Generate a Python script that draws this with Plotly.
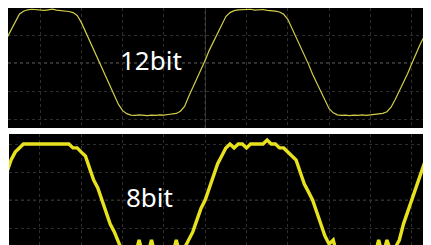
import plotly.graph_objects as go

# sample times (divisions)
TIME = [-0.8, -0.7, -0.6, -0.5, -0.4, -0.3, -0.2, -0.1, 0.0, 0.1,
        0.2, 0.3, 0.4, 0.5, 0.6, 0.7, 0.8, 0.9, 1.0, 1.1,
        1.2, 1.3, 1.4, 1.5, 1.6, 1.7, 1.8, 1.9, 2.0, 2.1,
        2.2, 2.3, 2.4, 2.5, 2.6, 2.7, 2.8, 2.9, 3.0, 3.1,
        3.2, 3.3, 3.4, 3.5, 3.6, 3.7, 3.8, 3.9, 4.0, 4.1,
        4.2, 4.3, 4.4, 4.5, 4.6, 4.7, 4.8, 4.9, 5.0, 5.1,
        5.2, 5.3, 5.4, 5.5, 5.6, 5.7, 5.8, 5.9, 6.0, 6.1,
        6.2, 6.3, 6.4, 6.5, 6.6, 6.7, 6.8, 6.9, 7.0, 7.1,
        7.2, 7.3, 7.4, 7.5, 7.6, 7.7, 7.8, 7.9, 8.0, 8.1,
        8.2, 8.3, 8.4, 8.5, 8.6, 8.7, 8.8, 8.9, 9.0, 9.1,
        9.2, 9.3, 9.4, 9.5]

# 12-bit capture (divisions)
WAVE_12BIT = [0.9, 1.2, 1.5, 1.74, 1.85, 1.9, 1.92, 1.91, 1.89, 1.88,
              1.9, 1.92, 1.89, 1.88, 1.86, 1.84, 1.8, 1.7, 1.45, 1.12,
              0.82, 0.52, 0.18, -0.18, -0.53, -0.86, -1.18, -1.48, -1.7, -1.81,
              -1.86, -1.87, -1.85, -1.87, -1.88, -1.86, -1.87, -1.85, -1.86, -1.84,
              -1.83, -1.8, -1.72, -1.55, -1.2, -0.88, -0.58, -0.25, 0.1, 0.46,
              0.77, 1.07, 1.38, 1.66, 1.8, 1.87, 1.9, 1.91, 1.9, 1.92,
              1.89, 1.9, 1.91, 1.88, 1.87, 1.85, 1.82, 1.74, 1.56, 1.25,
              0.94, 0.64, 0.32, -0.04, -0.4, -0.72, -1.02, -1.35, -1.63, -1.78,
              -1.85, -1.87, -1.86, -1.88, -1.86, -1.87, -1.85, -1.87, -1.85, -1.84,
              -1.83, -1.8, -1.74, -1.58, -1.3, -1.0, -0.7, -0.38, -0.03, 0.32,
              0.65, 0.95, 1.25, 1.55]

# 8-bit capture (divisions, quantized)
WAVE_8BIT = [1.0, 1.43, 1.71, 1.86, 2.0, 2.0, 2.0, 2.0, 2.0, 2.0,
             2.0, 2.0, 2.0, 2.0, 2.0, 2.0, 1.86, 1.86, 1.71, 1.57,
             1.14, 0.71, 0.43, 0.0, -0.43, -0.86, -1.14, -1.57, -1.86, -2.0,
             -2.0, -2.0, -1.43, -2.0, -2.0, -1.43, -2.0, -2.0, -2.0, -2.0,
             -2.0, -1.43, -2.0, -1.71, -1.43, -1.14, -0.71, -0.29, 0.0, 0.43,
             0.86, 1.29, 1.57, 1.86, 2.0, 1.86, 2.0, 2.0, 1.86, 2.0,
             2.0, 2.0, 2.0, 2.14, 2.0, 2.0, 1.86, 1.86, 1.71, 1.57,
             1.43, 1.0, 0.57, 0.29, 0.0, -0.43, -0.86, -1.29, -1.57, -1.43,
             -2.0, -2.0, -2.0, -2.0, -2.0, -2.0, -2.0, -2.0, -2.0, -2.0,
             -1.43, -2.0, -1.43, -1.86, -1.71, -1.43, -0.86, -0.43, 0.0, 0.43,
             0.86, 1.29, 1.71, 1.86]

X_GRID = [0, 1, 2, 3, 4, 5, 6, 7, 8, 9]
Y_GRID_TOP = [-2, -1, 0, 1]
Y_GRID_BOTTOM = [-1, 0, 1, 2]
LABELS = ["12bit", "8bit"]

W, H = 423, 237

fig = go.Figure()
fig.add_trace(go.Scatter(x=TIME, y=WAVE_12BIT, mode="lines", xaxis="x", yaxis="y",
                         line=dict(color="#d2ce4a", width=1.2), hoverinfo="skip"))
fig.add_trace(go.Scatter(x=TIME, y=WAVE_8BIT, mode="lines", xaxis="x2", yaxis="y2",
                         line=dict(color="#e8e21e", width=3.4), hoverinfo="skip"))

ax_common = dict(showticklabels=False, ticks="", zeroline=False, showline=False,
                 showgrid=True, gridcolor="#2e2e2e", gridwidth=1, griddash="dot",
                 fixedrange=True)

fig.update_layout(
    width=W, height=H,
    margin=dict(l=0, r=0, t=0, b=0),
    paper_bgcolor="white", plot_bgcolor="black",
    showlegend=False,
    xaxis=dict(domain=[0, 1], range=[-0.775, 9.467], tickvals=X_GRID, **ax_common),
    yaxis=dict(domain=[(H - 120) / H, 1], range=[-2.321, 1.964],
               tickvals=Y_GRID_TOP, **ax_common),
    xaxis2=dict(domain=[1 / W, 1], range=[-0.75, 9.467], tickvals=X_GRID,
                anchor="y2", **ax_common),
    yaxis2=dict(domain=[0, (H - 126) / H], range=[-1.607, 2.357],
                tickvals=Y_GRID_BOTTOM, anchor="x2", **ax_common),
    shapes=[
        dict(type="line", xref="x domain", yref="y", x0=0, x1=1, y0=0, y1=0,
             line=dict(color="#6a6a6a", width=1, dash="dot"), layer="below"),
        dict(type="line", xref="x", yref="y domain", x0=4, x1=4, y0=0, y1=1,
             line=dict(color="#555555", width=1, dash="dot"), layer="below"),
        dict(type="line", xref="x2 domain", yref="y2", x0=0, x1=1, y0=0, y1=0,
             line=dict(color="#333333", width=1, dash="dot"), layer="below"),
    ],
    annotations=[
        dict(text=LABELS[0], x=143 / W, y=(H - 52) / H, xref="paper", yref="paper",
             xanchor="center", yanchor="middle", showarrow=False,
             font=dict(family="Noto Sans", size=26, color="white")),
        dict(text=LABELS[1], x=141 / W, y=(H - 189) / H, xref="paper", yref="paper",
             xanchor="center", yanchor="middle", showarrow=False,
             font=dict(family="Noto Sans", size=26, color="white")),
    ],
)

fig.write_html("out.html")
